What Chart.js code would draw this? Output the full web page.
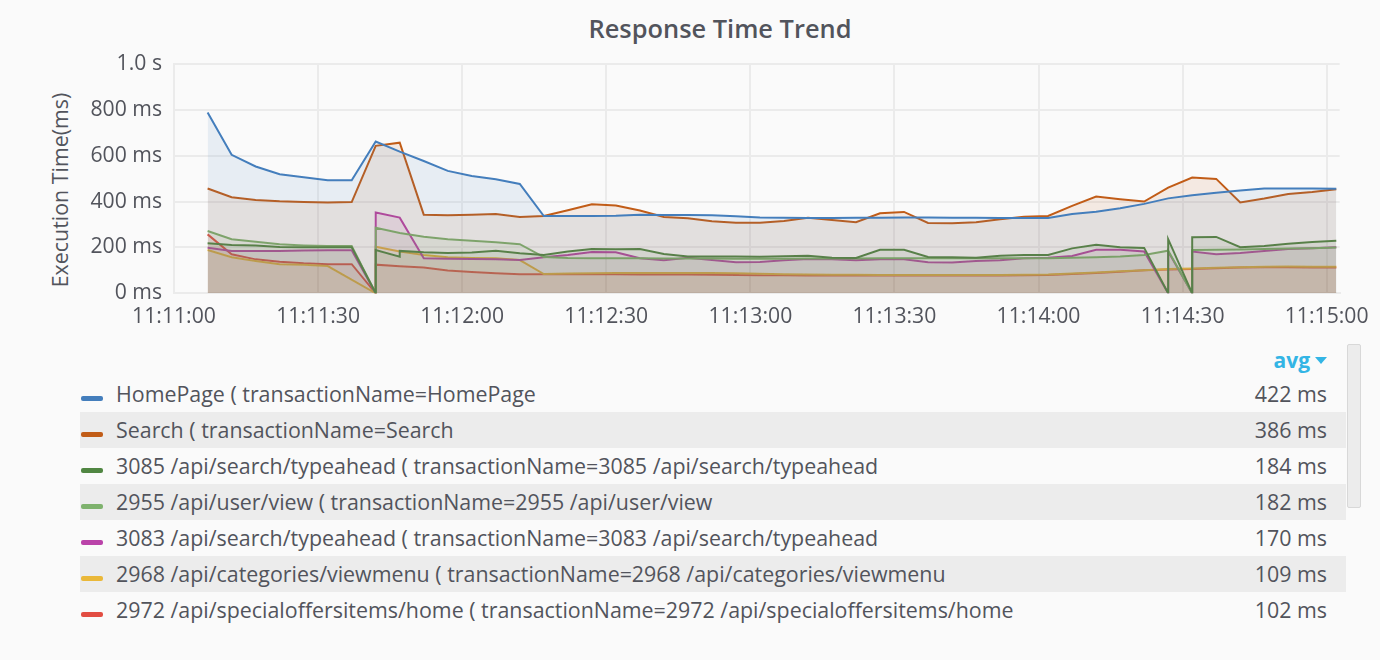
<!DOCTYPE html>
<html><head><meta charset="utf-8">
<script src="https://cdn.jsdelivr.net/npm/chart.js@4.4.1/dist/chart.umd.min.js"></script>
<style>
html,body{margin:0;padding:0;background:#fafafa;}
body{width:1380px;height:660px;position:relative;overflow:hidden;font-family:"Open Sans",sans-serif;color:#52545c;}
#title{position:absolute;left:420px;width:600px;top:11px;text-align:center;font-size:25.4px;font-weight:600;line-height:34px;}
#ylabel{position:absolute;left:60px;top:190px;transform:translate(-50%,-50%) rotate(-90deg);font-size:21.4px;white-space:nowrap;line-height:24px;}
#chart{position:absolute;left:0;top:0;}
.row{position:absolute;left:80px;width:1266px;height:36px;line-height:36px;font-size:21.4px;}
.row.alt{background:#ececec;}
.sw{position:absolute;left:1px;top:20px;width:22px;height:5px;border-radius:2px;}
.name{position:absolute;left:36px;top:0;white-space:nowrap;}
.val{position:absolute;right:19px;top:0;white-space:nowrap;}
#hdr{position:absolute;left:1200px;width:127px;top:342px;height:36px;line-height:36px;text-align:right;font-size:21px;font-weight:700;color:#33b5e5;}
#caret{display:inline-block;width:0;height:0;border-left:6px solid transparent;border-right:6px solid transparent;border-top:7px solid #33b5e5;vertical-align:middle;margin-left:5px;position:relative;top:-2px;}
#scroll{position:absolute;left:1347px;top:344px;width:12px;height:162px;background:#ececec;border:1px solid #d8d8d8;border-radius:2px;}
</style></head>
<body>
<div id="title">Response Time Trend</div>
<div id="ylabel">Execution Time(ms)</div>
<canvas id="chart" width="1380" height="340"></canvas>
<div id="hdr">avg<span id="caret"></span></div>
<div id="legend"></div>
<div id="scroll"></div>
<script>
// ---- data ----
const times = [
 "11:11:07","11:11:12","11:11:17","11:11:22","11:11:27","11:11:32","11:11:37","11:11:42","11:11:47","11:11:52","11:11:57",
 "11:12:02","11:12:07","11:12:12","11:12:17","11:12:22","11:12:27","11:12:32","11:12:37","11:12:42","11:12:47","11:12:52","11:12:57",
 "11:13:02","11:13:07","11:13:12","11:13:17","11:13:22","11:13:27","11:13:32","11:13:37","11:13:42","11:13:47","11:13:52","11:13:57",
 "11:14:02","11:14:07","11:14:12","11:14:17","11:14:22","11:14:27","11:14:32","11:14:37","11:14:42","11:14:47","11:14:52","11:14:57",
 "11:15:02"];
const rangeStart = "11:11:00";
const rangeEnd = "11:15:02.7";
const yTicksMs = [0, 200, 400, 600, 800, 1000];

// a pair [a, b] = two samples at the same timestamp (a then b)
const homePage = [788,604,553,519,506,493,493,662,618,577,
 534,512,497,477,337,337,337,338,343,342,
 341,340,336,331,329,328,328,329,330,331,
 331,330,329,328,328,328,346,356,371,390,
 414,428,439,448,457,457,457,456];
const search = [457,419,407,401,398,396,398,643,657,343,
 340,343,346,333,337,362,388,383,361,333,
 327,314,308,308,315,329,320,310,349,355,
 307,306,310,323,334,337,381,422,410,400,
 461,505,499,396,413,433,442,454];
const typeahead3085 = [218,211,208,202,201,201,201,[0,189],[160,185],179,
 176,178,186,175,167,182,193,192,193,171,
 160,160,160,159,162,164,155,154,190,190,
 158,157,155,164,167,167,196,212,201,198,
 [0,236],[0,244],246,201,206,216,224,229];
const userView2955 = [272,236,225,214,209,206,206,[0,286],263,247,
 236,229,223,214,158,154,153,153,153,152,
 152,152,151,151,151,152,152,152,153,153,
 153,153,153,153,153,153,155,157,160,167,
 186,[0,189],190,191,193,195,197,200];
const typeahead3083 = [199,185,185,185,187,188,188,[0,352],330,153,
 151,150,149,145,157,167,180,179,153,144,
 155,145,135,136,144,150,148,144,149,149,
 135,134,141,144,153,155,163,190,190,182,
 [0,182],[0,182],170,176,185,193,196,201];
const viewmenu2968 = [189,157,141,127,124,119,null,[0,203],182,167,
 157,154,153,145,84,86,87,88,88,89,
 89,88,87,85,83,82,81,81,80,80,
 80,80,80,80,81,82,86,91,96,101,
 106,108,111,114,116,117,116,116];
const specialOffers2972 = [257,170,148,138,131,127,127,[0,125],118,112,
 99,93,87,83,83,83,83,83,82,82,
 82,81,80,79,79,78,78,78,78,78,
 78,78,78,78,79,80,84,89,94,100,
 104,106,109,112,114,114,113,113];

const seriesNames = [
 "HomePage ( transactionName=HomePage",
 "Search ( transactionName=Search",
 "3085 /api/search/typeahead ( transactionName=3085 /api/search/typeahead",
 "2955 /api/user/view ( transactionName=2955 /api/user/view",
 "3083 /api/search/typeahead ( transactionName=3083 /api/search/typeahead",
 "2968 /api/categories/viewmenu ( transactionName=2968 /api/categories/viewmenu",
 "2972 /api/specialoffersitems/home ( transactionName=2972 /api/specialoffersitems/home"];
const seriesAvg = ["422 ms","386 ms","184 ms","182 ms","170 ms","109 ms","102 ms"];
const seriesValues = [homePage, search, typeahead3085, userView2955, typeahead3083, viewmenu2968, specialOffers2972];

// ---- styles ----
const palette = [[68,126,188],[193,92,23],[80,134,66],[126,178,109],[186,67,169],[234,184,57],[226,77,66]];
const textColor = '#52545c';
const tickFont = { family: 'Open Sans', size: 21.2 };

function secs(t){ const p=t.split(':'); return (+p[0])*3600+(+p[1])*60+parseFloat(p[2]); }
function fmt(s){ s=Math.round(s); const h=Math.floor(s/3600), m=Math.floor(s%3600/60), ss=s%60;
  const z=n=>String(n).padStart(2,'0'); return z(h)+':'+z(m)+':'+z(ss); }
function toPoints(vals){
  const pts=[];
  vals.forEach((v,i)=>{ const x=secs(times[i]);
    if(Array.isArray(v)) v.forEach(y=>pts.push({x,y})); else pts.push({x,y:v}); });
  return pts;
}

const datasets = seriesValues.map((vals,i)=>({
  label: seriesNames[i],
  data: toPoints(vals),
  borderColor: `rgb(${palette[i].join(',')})`,
  backgroundColor: `rgba(${palette[i].join(',')},0.1)`,
  borderWidth: 2,
  pointRadius: 0,
  tension: 0,
  fill: 'origin',
  spanGaps: true
}));

new Chart(document.getElementById('chart'), {
  type: 'line',
  data: { datasets },
  options: {
    responsive: false,
    devicePixelRatio: 1,
    animation: false,
    events: [],
    layout: { padding: { top: 64, right: 38, left: 0, bottom: 0 } },
    plugins: { legend: { display: false }, tooltip: { enabled: false }, title: { display: false } },
    scales: {
      x: {
        type: 'linear',
        min: secs(rangeStart), max: secs(rangeEnd),
        grid: { color: '#ebebeb', lineWidth: 2, drawTicks: false },
        border: { color: '#ebebeb', width: 2 },
        ticks: { stepSize: 30, includeBounds: false, autoSkip: false, maxRotation: 0,
          padding: 11, color: textColor, font: tickFont,
          callback: v => fmt(v) },
        afterFit: s => { s.height = 340 - 293.3; }
      },
      y: {
        min: yTicksMs[0], max: yTicksMs[yTicksMs.length-1],
        grid: { color: '#ebebeb', lineWidth: 2, drawTicks: false },
        border: { color: '#ebebeb', width: 2 },
        afterBuildTicks: s => { s.ticks = yTicksMs.map(v=>({value:v})); },
        ticks: { padding: 12, color: textColor, font: tickFont,
          callback: v => v >= 1000 ? (v/1000).toFixed(1)+' s' : v+' ms' },
        afterFit: s => { s.width = 174; }
      }
    }
  }
});

// ---- legend table ----
const lg = document.getElementById('legend');
seriesNames.forEach((n,i)=>{
  const r=document.createElement('div');
  r.className='row'+(i%2===1?' alt':'');
  r.style.top=(376+36*i)+'px';
  r.innerHTML=`<div class="sw" style="background:rgb(${palette[i].join(',')})"></div><div class="name"></div><div class="val"></div>`;
  r.querySelector('.name').textContent=n;
  r.querySelector('.val').textContent=seriesAvg[i];
  lg.appendChild(r);
});
</script>
</body></html>
